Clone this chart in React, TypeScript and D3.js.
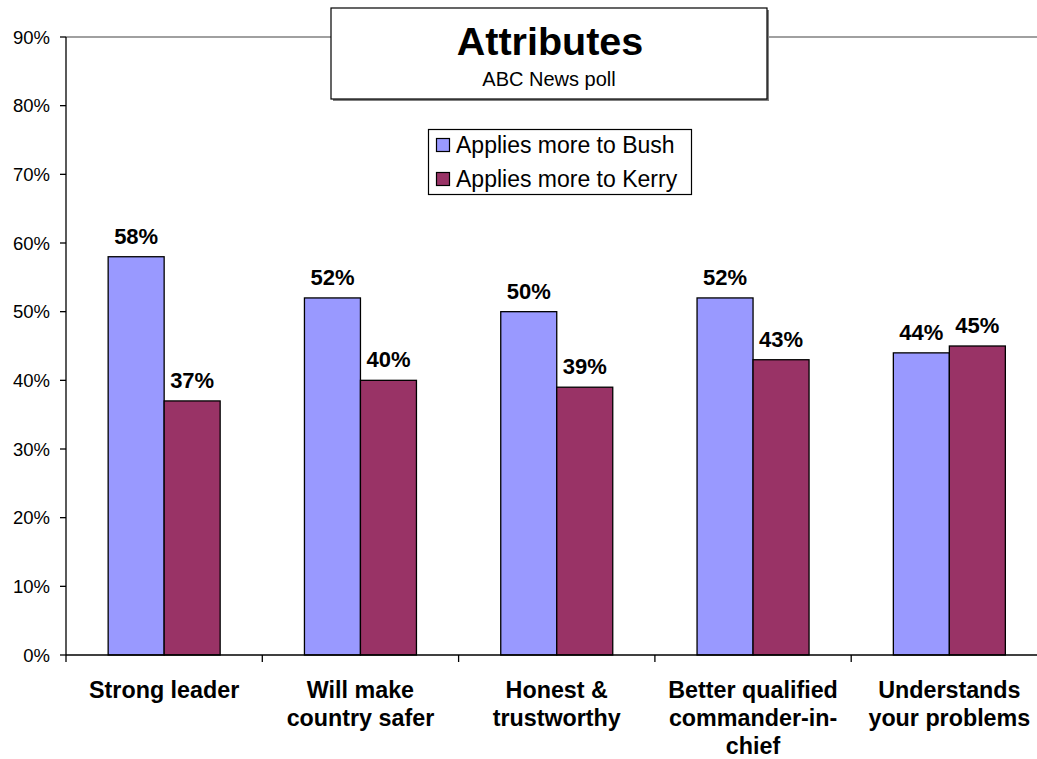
import React from "react";
import * as d3 from "d3";

const categories = [
  ["Strong leader"],
  ["Will make", "country safer"],
  ["Honest &", "trustworthy"],
  ["Better qualified", "commander-in-", "chief"],
  ["Understands", "your problems"],
];
const seriesNames = ["Applies more to Bush", "Applies more to Kerry"];
const bush = [58, 52, 50, 52, 44];
const kerry = [37, 40, 39, 43, 45];
const yTicks = [0, 10, 20, 30, 40, 50, 60, 70, 80, 90];
const colors = ["#9999FF", "#993366"];

export default function App() {
  const W = 1037, H = 759;
  const left = 66, top = 37, bottom = 655;
  const catW = 196.3;
  const right = left + catW * 5;
  const font = "'Liberation Sans', Arial, sans-serif";
  const x0 = d3.scaleBand<number>().domain(d3.range(5)).range([left, right]).paddingInner(0).paddingOuter(0);
  const y = d3.scaleLinear().domain([0, 90]).range([bottom, top]);
  const barW = 56;
  const gap = (catW - 2 * barW) / 2;
  const series = [bush, kerry];
  return (
    <svg width={W} height={H} style={{ position: "absolute", left: 0, top: 0, fontFamily: font }}>
      <rect x={0} y={0} width={W} height={H} fill="#fff" />
      <line x1={left} x2={W} y1={top} y2={top} stroke="#808080" strokeWidth={1.3} />
      {series.map((s, si) =>
        s.map((v, i) => {
          const bx = (x0(i) as number) + gap + si * barW;
          return (
            <g key={si + "-" + i}>
              <rect x={bx} y={y(v)} width={barW} height={y(0) - y(v)} fill={colors[si]} stroke="#000" strokeWidth={1.3} />
              <text x={bx + barW / 2} y={y(v) - 13} textAnchor="middle" fontWeight="bold" fontSize={22}>{v}%</text>
            </g>
          );
        })
      )}
      <line x1={left} x2={left} y1={top} y2={bottom} stroke="#000" strokeWidth={1.3} />
      <line x1={left} x2={W} y1={bottom} y2={bottom} stroke="#000" strokeWidth={1.3} />
      {yTicks.map((t) => (
        <g key={t}>
          <line x1={left - 6} x2={left} y1={y(t)} y2={y(t)} stroke="#000" strokeWidth={1.3} />
          <text x={50} y={y(t) + 6.5} textAnchor="end" fontSize={18.5}>{t}%</text>
        </g>
      ))}
      {d3.range(6).map((i) => (
        <line key={i} x1={left + i * catW} x2={left + i * catW} y1={bottom} y2={bottom + 7} stroke="#000" strokeWidth={1.3} />
      ))}
      {categories.map((lines, i) => (
        <text key={i} textAnchor="middle" fontWeight="bold" fontSize={23.3}>
          {lines.map((l, li) => (
            <tspan key={li} x={(x0(i) as number) + catW / 2} y={698 + li * 28}>{l}</tspan>
          ))}
        </text>
      ))}
      <rect x={333} y={10} width={436} height={91} fill="#808080" />
      <rect x={331} y={8} width={436} height={91} fill="#fff" stroke="#000" strokeWidth={1.2} />
      <text x={550} y={55} textAnchor="middle" fontWeight="bold" fontSize={39.5}>Attributes</text>
      <text x={549} y={86} textAnchor="middle" fontSize={20}>ABC News poll</text>
      <rect x={428.5} y={129.5} width={263} height={65} fill="#fff" stroke="#000" strokeWidth={1.2} />
      {seriesNames.map((n, i) => (
        <g key={n}>
          <rect x={436.5} y={138.5 + i * 34} width={13} height={13} fill={colors[i]} stroke="#000" strokeWidth={1.2} />
          <text x={456} y={153 + i * 34} fontSize={23}>{n}</text>
        </g>
      ))}
    </svg>
  );
}
